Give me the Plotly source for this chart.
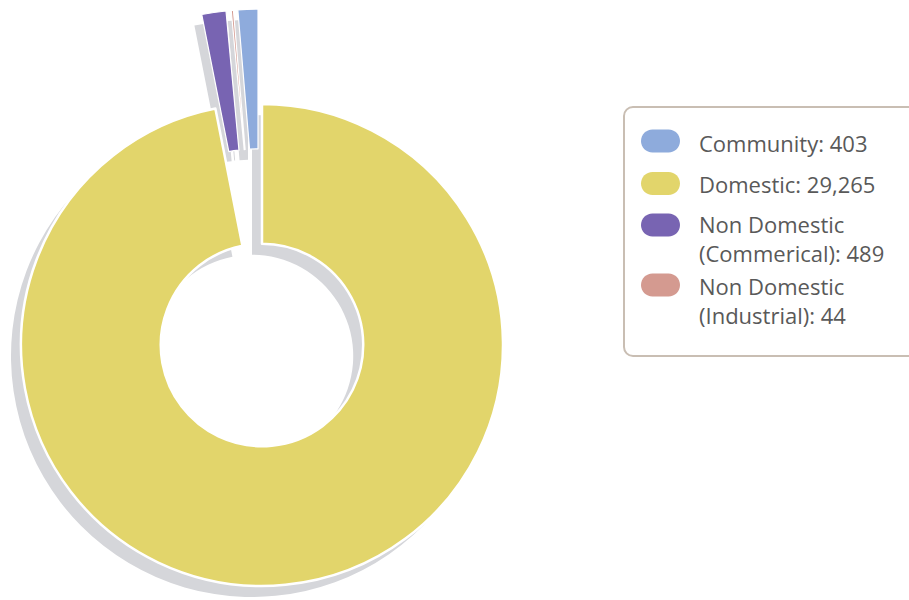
import math
import plotly.graph_objects as go

# Connections by customer category
categories = ["Community", "Domestic", "Non Domestic (Commerical)", "Non Domestic (Industrial)"]
values = [403, 29265, 489, 44]
colors = ["#8eabdc", "#e2d56b", "#7864b2", "#d49a90"]
exploded = [True, False, True, True]

W, H = 909, 600
CX, CY = 262, 345          # donut centre (px)
R = 241                    # outer radius (px)
HOLE = 0.42
PULL_PX = 95               # distance exploded slices move out
SHADOW_DX, SHADOW_DY = -10, 11
SHADOW = "#d5d6da"
CLEAR = "rgba(0,0,0,0)"
EDGE_MAIN, EDGE_SMALL = 2.5, 1.2   # white slice outlines

total = sum(values)
start_angle = -values[0] / total * 360   # first slice ends at 12 o'clock


def px_x(x):
    return x / W


def px_y(y):
    return 1 - y / H


def domain(cx, cy):
    # a pie domain has to stay inside the paper
    cx = min(max(cx, R + 0.05), W - R - 0.05)
    cy = min(max(cy, R + 0.05), H - R - 0.05)
    return dict(x=[px_x(cx - R), px_x(cx + R)], y=[px_y(cy + R), px_y(cy - R)])


def ring(cx, cy, fills, widths, hover=True):
    return go.Pie(
        labels=categories, values=values, sort=False,
        direction="clockwise", rotation=start_angle, hole=HOLE,
        domain=domain(cx, cy),
        marker=dict(colors=fills, line=dict(color="white", width=widths)),
        textinfo="none", showlegend=False,
        hoverinfo="label+value" if hover else "skip",
    )


# bisector of each slice -> offset of the exploded copies
offsets = []
acc = start_angle
for v in values:
    a0, a1 = acc, acc + v / total * 360
    acc = a1
    mid = math.radians((a0 + a1) / 2)
    offsets.append((PULL_PX * math.sin(mid), -PULL_PX * math.cos(mid)))

n = len(values)
only = lambda i, c: [c if j == i else CLEAR for j in range(n)]
only_w = lambda i, w: [w if j == i else 0 for j in range(n)]

fig = go.Figure()

# shadows first
for i in range(n):
    dx, dy = offsets[i] if exploded[i] else (0, 0)
    fig.add_trace(ring(CX + dx + SHADOW_DX, CY + dy + SHADOW_DY,
                       only(i, SHADOW), only_w(i, 0), hover=False))

# slices
for i in range(n):
    dx, dy = offsets[i] if exploded[i] else (0, 0)
    edge = EDGE_SMALL if exploded[i] else EDGE_MAIN
    fig.add_trace(ring(CX + dx, CY + dy, only(i, colors[i]), only_w(i, edge)))


def rounded_path(x0, y0, x1, y1, r):
    k = 0.5523 * r
    P = lambda x, y: f"{px_x(x):.5f},{px_y(y):.5f}"
    return (
        f"M {P(x0 + r, y0)} L {P(x1 - r, y0)} "
        f"C {P(x1 - r + k, y0)} {P(x1, y0 + r - k)} {P(x1, y0 + r)} "
        f"L {P(x1, y1 - r)} "
        f"C {P(x1, y1 - r + k)} {P(x1 - r + k, y1)} {P(x1 - r, y1)} "
        f"L {P(x0 + r, y1)} "
        f"C {P(x0 + r - k, y1)} {P(x0, y1 - r + k)} {P(x0, y1 - r)} "
        f"L {P(x0, y0 + r)} "
        f"C {P(x0, y0 + r - k)} {P(x0 + r - k, y0)} {P(x0 + r, y0)} Z"
    )


# legend panel
shapes = [dict(type="path", xref="paper", yref="paper",
               path=rounded_path(624, 107, 925, 356, 9),
               line=dict(color="#c9beb3", width=2), fillcolor="white", layer="below")]
annotations = []
marker_y = [141, 183.5, 225, 285]
text_y = [143.5, 183.5, 238, 300]
for i in range(n):
    my = marker_y[i]
    shapes.append(dict(type="path", xref="paper", yref="paper",
                       path=rounded_path(641, my - 11.5, 680, my + 11.5, 11.5),
                       line=dict(width=0), fillcolor=colors[i]))
    label = categories[i].replace(" (", "<br>(")
    annotations.append(dict(
        xref="paper", yref="paper", x=px_x(697), y=px_y(text_y[i]),
        xanchor="left", yanchor="middle", align="left", showarrow=False,
        text=f"{label}: {values[i]:,}",
        font=dict(family="Open Sans", size=22, color="#595959"),
    ))

fig.update_layout(
    width=W, height=H, margin=dict(l=0, r=0, t=0, b=0),
    paper_bgcolor="white", plot_bgcolor="white",
    shapes=shapes, annotations=annotations, showlegend=False,
)

fig.write_html("out.html")
